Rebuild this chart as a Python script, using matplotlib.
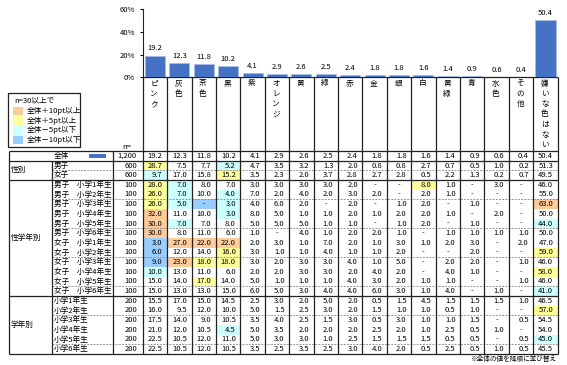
import matplotlib
matplotlib.use('Agg')
import matplotlib.pyplot as plt
from matplotlib.patches import Rectangle

plt.rcParams['font.family'] = ['Noto Sans CJK JP', 'DejaVu Sans']

# ---------------- data ----------------
categories = ['ピンク', '灰色', '茶色', '黒', '紫', 'オレンジ', '黄', '緑', '赤', '金',
              '銀', '白', '黄緑', '青', '水色', 'その他', '嫌いな色はない']
total = [19.2, 12.3, 11.8, 10.2, 4.1, 2.9, 2.6, 2.5, 2.4, 1.8, 1.8, 1.6, 1.4, 0.9, 0.6, 0.4, 50.4]

boys = [28.7, 7.5, 7.7, 5.2, 4.7, 3.5, 3.2, 1.3, 2.0, 0.8, 0.8, 2.7, 0.7, 0.5, 1.0, 0.2, 51.3]
girls = [9.7, 17.0, 15.8, 15.2, 3.5, 2.3, 2.0, 3.7, 2.8, 2.7, 2.8, 0.5, 2.2, 1.3, 0.2, 0.7, 49.5]

boys_g1 = [28.0, 7.0, 8.0, 7.0, 3.0, 3.0, 3.0, 3.0, 2.0, None, None, 8.0, 1.0, None, 3.0, None, 46.0]
boys_g2 = [26.0, 7.0, 10.0, 4.0, 7.0, 2.0, 4.0, 2.0, 3.0, 2.0, None, 2.0, 1.0, None, None, None, 55.0]
boys_g3 = [26.0, 5.0, None, 3.0, 4.0, 6.0, 2.0, None, 2.0, None, 1.0, 2.0, None, 1.0, None, None, 63.0]
boys_g4 = [32.0, 11.0, 10.0, 3.0, 8.0, 5.0, 1.0, 1.0, 2.0, 1.0, 2.0, 2.0, 1.0, None, 2.0, None, 50.0]
boys_g5 = [30.0, 7.0, 7.0, 8.0, 5.0, 5.0, 5.0, 1.0, 1.0, None, 1.0, 2.0, None, 1.0, None, None, 44.0]
boys_g6 = [30.0, 8.0, 11.0, 6.0, 1.0, None, 4.0, 1.0, 2.0, 2.0, 1.0, None, 1.0, 1.0, 1.0, 1.0, 50.0]
girls_g1 = [3.0, 27.0, 22.0, 22.0, 2.0, 3.0, 1.0, 7.0, 2.0, 1.0, 3.0, 1.0, 2.0, 3.0, None, 2.0, 47.0]
girls_g2 = [6.0, 12.0, 14.0, 16.0, 3.0, 1.0, 1.0, 4.0, 1.0, 1.0, 2.0, None, None, 2.0, None, None, 59.0]
girls_g3 = [9.0, 23.0, 18.0, 18.0, 3.0, 2.0, 3.0, 3.0, 4.0, 1.0, 5.0, None, 2.0, 2.0, None, 1.0, 46.0]
girls_g4 = [10.0, 13.0, 11.0, 6.0, 2.0, 2.0, 3.0, 3.0, 2.0, 4.0, 2.0, None, 4.0, 1.0, None, None, 58.0]
girls_g5 = [15.0, 14.0, 17.0, 14.0, 5.0, 1.0, 1.0, 1.0, 4.0, 3.0, 2.0, 1.0, 1.0, None, None, 1.0, 46.0]
girls_g6 = [15.0, 13.0, 13.0, 15.0, 6.0, 5.0, 3.0, 4.0, 4.0, 6.0, 3.0, 1.0, 4.0, None, 1.0, None, 41.0]
grade1 = [15.5, 17.0, 15.0, 14.5, 2.5, 3.0, 2.0, 5.0, 2.0, 0.5, 1.5, 4.5, 1.5, 1.5, 1.5, 1.0, 46.5]
grade2 = [16.0, 9.5, 12.0, 10.0, 5.0, 1.5, 2.5, 3.0, 2.0, 1.5, 1.0, 1.0, 0.5, 1.0, None, None, 57.0]
grade3 = [17.5, 14.0, 9.0, 10.5, 3.5, 4.0, 2.5, 1.5, 3.0, 0.5, 3.0, 1.0, 1.0, 1.5, None, 0.5, 54.5]
grade4 = [21.0, 12.0, 10.5, 4.5, 5.0, 3.5, 2.0, 2.0, 2.0, 2.5, 2.0, 1.0, 2.5, 0.5, 1.0, None, 54.0]
grade5 = [22.5, 10.5, 12.0, 11.0, 5.0, 3.0, 3.0, 1.0, 2.5, 1.5, 1.5, 1.5, 0.5, 0.5, None, 0.5, 45.0]
grade6 = [22.5, 10.5, 12.0, 10.5, 3.5, 2.5, 3.5, 2.5, 3.0, 4.0, 2.0, 0.5, 2.5, 0.5, 1.0, 0.5, 45.5]

row_labels = ['男子', '女子',
              '男子　小学1年生', '男子　小学2年生', '男子　小学3年生', '男子　小学4年生',
              '男子　小学5年生', '男子　小学6年生',
              '女子　小学1年生', '女子　小学2年生', '女子　小学3年生', '女子　小学4年生',
              '女子　小学5年生', '女子　小学6年生',
              '小学1年生', '小学2年生', '小学3年生', '小学4年生', '小学5年生', '小学6年生']
row_n = [600, 600] + [100] * 12 + [200] * 6
total_n = 1200
row_values = [boys, girls, boys_g1, boys_g2, boys_g3, boys_g4, boys_g5, boys_g6,
              girls_g1, girls_g2, girls_g3, girls_g4, girls_g5, girls_g6,
              grade1, grade2, grade3, grade4, grade5, grade6]
groups = [('性別', 0, 2), ('性学年別', 2, 14), ('学年別', 14, 20)]

legend_title = 'n=30以上で'
legend_labels = ['全体＋10pt以上', '全体＋5pt以上', '全体－5pt以下', '全体－10pt以下']
hl_colors = ['#FFCC99', '#FFFF99', '#CCFFFF', '#99CCFF']
bar_color = '#4472C4'

# ---------------- layout (pixels) ----------------
W_PX, H_PX = 567, 365
fig = plt.figure(figsize=(W_PX / 100, H_PX / 100), dpi=100)
ax_t = fig.add_axes([0, 0, 1, 1])
ax_t.set_xlim(0, W_PX)
ax_t.set_ylim(H_PX, 0)
ax_t.axis('off')

FS = 5.5
x_left, x_sub, x_n, x_data = 9.0, 52.0, 112.7, 142.7
x_right = 557.7
ncol = len(categories)
cw = (x_right - x_data) / ncol
y_head = 77.3
y_top = 151.0
nrows = 1 + len(row_values)
y_bot = 354.0
rh = (y_bot - y_top) / nrows

def row_y(i):
    return y_top + i * rh

def level(diff):
    d = round(diff, 1)
    if d >= 10: return 0
    if d >= 5: return 1
    if d <= -10: return 3
    if d <= -5: return 2
    return None

# highlight fills
for r, vals in enumerate(row_values):
    for c, v in enumerate(vals):
        lv = level((v or 0) - total[c])
        if lv is not None:
            ax_t.add_patch(Rectangle((x_data + c * cw, row_y(r + 1)), cw, rh,
                                     facecolor=hl_colors[lv], edgecolor='none', zorder=1))

# cell texts
def put_values(r, vals):
    yc = row_y(r) + rh / 2
    for c, v in enumerate(vals):
        if v is None:
            ax_t.text(x_data + (c + 0.5) * cw, yc, '-', ha='center', va='center', fontsize=FS, zorder=3)
        else:
            ax_t.text(x_data + (c + 1) * cw - 4.5, yc, f'{v:.1f}', ha='right', va='center',
                      fontsize=FS, zorder=3)

put_values(0, total)
ax_t.text(61, row_y(0) + rh / 2, '全体', ha='center', va='center', fontsize=FS)
ax_t.add_patch(Rectangle((89, row_y(0) + 2.8), 17, 4.4, facecolor=bar_color, edgecolor='none'))
ax_t.text(137, row_y(0) + rh / 2, f'{total_n:,}', ha='right', va='center', fontsize=FS)
for r, vals in enumerate(row_values):
    put_values(r + 1, vals)
    yc = row_y(r + 1) + rh / 2
    ax_t.text(x_sub + 2, yc, row_labels[r], ha='left', va='center', fontsize=FS)
    ax_t.text(137, yc, f'{row_n[r]:,}', ha='right', va='center', fontsize=FS)
for name, a, b in groups:
    ax_t.text(x_left + 2, (row_y(a + 1) + row_y(b + 1)) / 2, name, ha='left', va='center', fontsize=FS)

# grid lines
LW = 0.9
solid_kw = dict(color='#222222', lw=LW, zorder=4, solid_capstyle='butt')
dash_kw = dict(color='#808080', lw=0.6, zorder=4, linestyle=(0, (2.2, 1.6)))
ax_t.plot([x_data, x_right], [y_head, y_head], **solid_kw)
ax_t.plot([x_left, x_right], [y_top, y_top], **solid_kw)
ax_t.plot([x_left, x_right], [row_y(1), row_y(1)], **solid_kw)
for r in range(1, nrows):
    yb = row_y(r + 1)
    if r in (2, 14, 20):
        ax_t.plot([x_left, x_right], [yb, yb], **solid_kw)
    elif r % 3 == 1:
        ax_t.plot([x_sub, x_right], [yb, yb], **dash_kw)
ax_t.plot([x_left, x_left], [y_top, y_bot], **solid_kw)
ax_t.plot([x_sub, x_sub], [row_y(1), y_bot], **solid_kw)
ax_t.plot([x_n, x_n], [y_top, y_bot], **solid_kw)
for c in range(ncol + 1):
    xx = x_data + c * cw
    ax_t.plot([xx, xx], [y_head, y_bot], **solid_kw)

# header vertical labels
for c, name in enumerate(categories):
    cx = x_data + (c + 0.5) * cw - 0.8
    for k, ch in enumerate(name):
        ax_t.text(cx, 83.5 + k * 10.3, ch, ha='center', va='center', fontsize=FS)
ax_t.text(127, 147, 'n=', ha='center', va='center', fontsize=FS)

# legend box
ax_t.add_patch(Rectangle((8.3, 93.3), 71.7, 53.4, facecolor='white', edgecolor='#222222', lw=LW))
ax_t.text(14, 100.5, legend_title, ha='left', va='center', fontsize=FS)
for k, (lab, col) in enumerate(zip(legend_labels, hl_colors)):
    yy = 110.7 + k * 9.8
    ax_t.add_patch(Rectangle((13.3, yy - 4.2), 9.4, 8.4, facecolor=col, edgecolor='none'))
    ax_t.text(26.7, yy, lab, ha='left', va='center', fontsize=FS)

# footnote
ax_t.text(556, 358.5, '※全体の値を降順に並び替え', ha='right', va='center', fontsize=4.8)

# ---------------- bar chart ----------------
ax = fig.add_axes([x_data / W_PX, 1 - y_head / H_PX, (x_right - x_data) / W_PX, (y_head - 9.3) / H_PX])
ax.patch.set_alpha(0)
xs = list(range(ncol))
ax.bar(xs, total, width=0.82, color=bar_color, edgecolor='#A9BDE3', linewidth=0.4)
for x, v in zip(xs, total):
    ax.annotate(f'{v:.1f}', (x, v), xytext=(0, 2.2), textcoords='offset points',
                ha='center', va='bottom', fontsize=FS)
ax.set_xlim(-0.5, ncol - 0.5)
ax.set_ylim(0, 60)
ax.set_yticks([0, 20, 40, 60])
ax.set_yticklabels(['0%', '20%', '40%', '60%'], fontsize=FS)
ax.tick_params(axis='y', length=2.5, width=0.8, pad=3)
ax.set_xticks([])
for s in ['top', 'right', 'bottom']:
    ax.spines[s].set_visible(False)
ax.spines['left'].set_linewidth(0.8)
ax.spines['left'].set_color('#222222')

fig.savefig('out.png', dpi=100)
